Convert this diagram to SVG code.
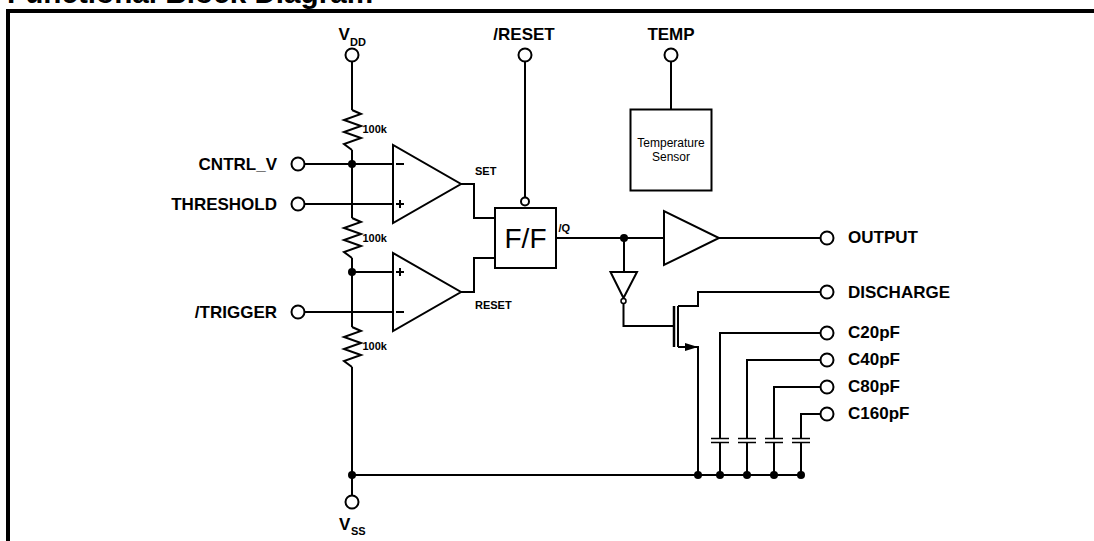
<svg xmlns="http://www.w3.org/2000/svg" width="1094" height="541" viewBox="0 0 1094 541">
<defs>
<style>
text{font-family:"Liberation Sans",Arial,sans-serif;fill:#000}
.b{font-weight:bold}
.l{font-size:17px;font-weight:bold}
.s{font-size:11px;font-weight:bold}
.w{fill:none;stroke:#000;stroke-width:2}
.p{fill:#fff;stroke:#000;stroke-width:2}
.d{fill:#000}
</style>
<path id="res" d="M0 0L9 4L-8 10L9 16L-8 22L9 28L-8 34L0 40" fill="none" stroke="#000" stroke-width="2"/>
</defs>
<rect x="0" y="0" width="1094" height="541" fill="#fff"/>
<text x="7" y="3" class="b" font-size="29.7">Functional Block Diagram</text>
<path d="M8 541V11H1094" fill="none" stroke="#000" stroke-width="4"/>
<g id="connectors">
<path class="w" d="M352 62V110M352 150V218M352 258V327M352 367V495"/>
<path class="w" d="M305 164H393M305 204H393M352 272H393M305 312H393"/>
<path class="w" d="M461 184H474V218H495M461 292H474V258H495"/>
<path class="w" d="M525 62V197M671 62V109"/>
<path class="w" d="M556 238H664M719 238H820M624 238V272M623.5 304V326H673"/>
<path class="w" d="M678 306H698V292H820M678 347H698V475"/>
<path class="w" d="M720 475V443M720 439V333H820M747 475V443M747 439V360H820M774 475V443M774 439V387H820M801 475V443M801 439V414H820"/>
<path class="w" d="M352 475H801"/>
<path d="M711 438.500H729M711 442.500H729M738 438.500H756M738 442.500H756M765 438.500H783M765 442.500H783M792 438.500H810M792 442.500H810" fill="none" stroke="#000" stroke-width="1.500"/>
<use href="#res" x="352" y="110"/><use href="#res" x="352" y="218"/><use href="#res" x="352" y="327"/>
<circle class="d" cx="352" cy="164" r="4"/><circle class="d" cx="352" cy="272" r="4"/><circle class="d" cx="352" cy="475" r="4"/>
<circle class="d" cx="624" cy="238" r="4"/><circle class="d" cx="698" cy="475" r="4"/><circle class="d" cx="720" cy="475" r="4"/><circle class="d" cx="747" cy="475" r="4"/><circle class="d" cx="774" cy="475" r="4"/><circle class="d" cx="801" cy="475" r="4"/>
</g>
<g id="vdd"><circle class="p" cx="352" cy="55" r="6.500"/><text x="338.500" y="40" class="l">V</text><text x="350" y="46" class="s">DD</text></g>
<g id="vss"><circle class="p" cx="352" cy="502" r="6.500"/><text x="339" y="530" class="l">V</text><text x="351" y="535" class="s">SS</text></g>
<g id="cntrl_v"><circle class="p" cx="298" cy="164" r="6.500"/><text x="277" y="170" class="l" text-anchor="end">CNTRL_V</text></g>
<g id="threshold"><circle class="p" cx="298" cy="204" r="6.500"/><text x="277" y="210" class="l" text-anchor="end">THRESHOLD</text></g>
<g id="trigger"><circle class="p" cx="298" cy="312" r="6.500"/><text x="277" y="318" class="l" text-anchor="end">/TRIGGER</text></g>
<g id="r1"><text x="362.500" y="133" class="s">100k</text></g>
<g id="r2"><text x="362.500" y="242" class="s">100k</text></g>
<g id="r3"><text x="362.500" y="350" class="s">100k</text></g>
<g id="comp1"><path class="p" d="M393 145V223L461 184Z"/><path class="w" d="M396 164H404M396 204H404M400 200V208"/><text x="475" y="175" class="s">SET</text></g>
<g id="comp2"><path class="p" d="M393 253V331L461 292Z"/><path class="w" d="M396 272H404M400 268V276M396 312H404"/><text x="475" y="309" class="s">RESET</text></g>
<g id="ff"><rect class="p" x="495" y="208" width="61" height="60"/><text x="525.500" y="248" font-size="28" text-anchor="middle">F/F</text><circle class="p" cx="525" cy="201.500" r="4"/><text x="558.500" y="232" class="s">/Q</text></g>
<g id="reset"><circle class="p" cx="525" cy="55" r="6.500"/><text x="524" y="40" class="l" text-anchor="middle">/RESET</text></g>
<g id="temp"><circle class="p" cx="671" cy="55" r="6.500"/><text x="671" y="40" class="l" text-anchor="middle">TEMP</text></g>
<g id="sensor"><rect class="p" x="630.500" y="109.500" width="81" height="81"/><text x="671" y="147" font-size="12" text-anchor="middle">Temperature</text><text x="671" y="161" font-size="12" text-anchor="middle">Sensor</text></g>
<g id="buffer"><path class="p" d="M664 211V265L719 238Z"/></g>
<g id="inverter"><path class="p" d="M610.500 272H637L623.500 298Z"/><circle fill="#fff" stroke="#000" stroke-width="1.500" cx="623.500" cy="301" r="2.500"/></g>
<g id="mosfet"><path d="M674 306V347" fill="none" stroke="#000" stroke-width="2.500"/><path d="M678 306V347" fill="none" stroke="#000" stroke-width="2"/><path class="d" d="M685 343L698 347L685 351Z"/></g>
<g id="output"><circle class="p" cx="827" cy="238" r="6.500"/><text x="848" y="243" class="l">OUTPUT</text></g>
<g id="discharge"><circle class="p" cx="827" cy="292" r="6.500"/><text x="848" y="298" class="l">DISCHARGE</text></g>
<g id="c20"><circle class="p" cx="827" cy="333" r="6.500"/><text x="848" y="338" class="l">C20pF</text></g>
<g id="c40"><circle class="p" cx="827" cy="360" r="6.500"/><text x="848" y="365" class="l">C40pF</text></g>
<g id="c80"><circle class="p" cx="827" cy="387" r="6.500"/><text x="848" y="392" class="l">C80pF</text></g>
<g id="c160"><circle class="p" cx="827" cy="414" r="6.500"/><text x="848" y="419" class="l">C160pF</text></g>
</svg>
